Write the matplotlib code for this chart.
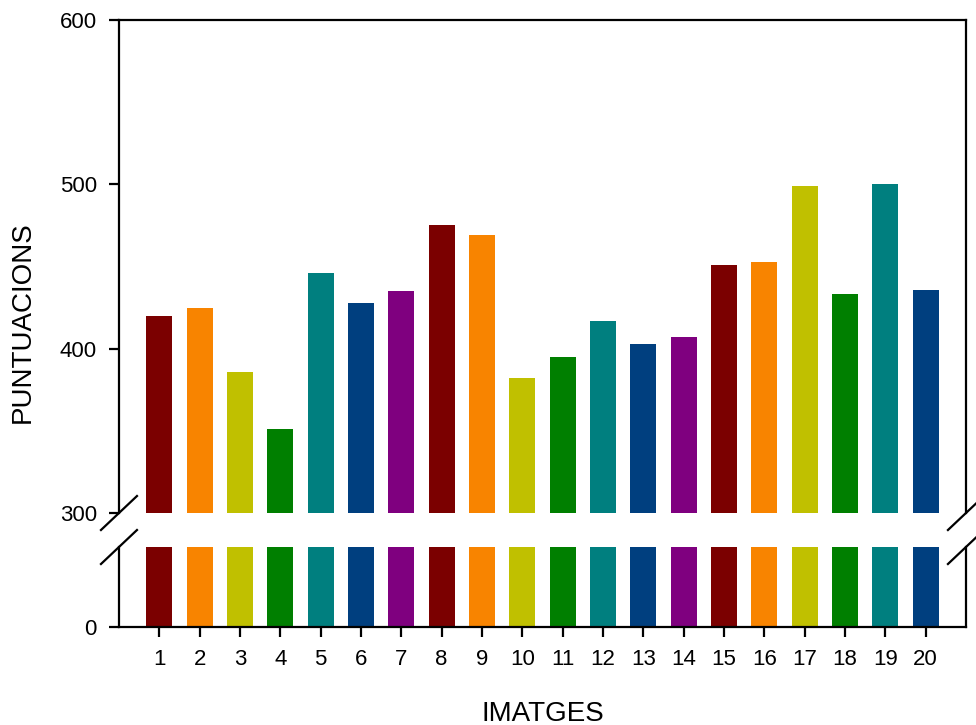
import matplotlib.pyplot as plt

plt.rcParams['font.family'] = ['Liberation Sans', 'DejaVu Sans']

# Dades
imatges = list(range(1, 21))
puntuacions = [420, 425, 386, 351, 446, 428, 435, 475, 469, 382,
               395, 417, 403, 407, 451, 453, 499, 433, 500, 436]
colors_cicle = ['#7B0000', '#F88400', '#C0C000', '#007F00',
                '#007F7F', '#003F7F', '#7F007F']
y_ticks_superior = [300, 400, 500, 600]
y_ticks_inferior = [0]

colors = [colors_cicle[i % len(colors_cicle)] for i in range(len(imatges))]

fig = plt.figure(figsize=(9.76, 7.25), dpi=100)
ax_sup = fig.add_axes([0.1219, 0.2924, 0.8678, 0.68])
ax_inf = fig.add_axes([0.1219, 0.1352, 0.8678, 0.1103])

for ax in (ax_sup, ax_inf):
    ax.bar(imatges, puntuacions, width=0.65, color=colors)
    ax.set_xlim(0, 21)
    for s in ('left', 'right', 'top', 'bottom'):
        ax.spines[s].set_linewidth(1.6)
    ax.tick_params(width=1.6, length=7, labelsize=16, pad=9)

ax_sup.set_ylim(300, 600)
ax_sup.set_yticks(y_ticks_superior)
ax_sup.spines['bottom'].set_visible(False)
ax_sup.tick_params(axis='x', bottom=False, labelbottom=False)

ax_inf.set_ylim(0, 50)
ax_inf.set_yticks(y_ticks_inferior)
ax_inf.spines['top'].set_visible(False)
ax_inf.set_xticks(imatges)

ax_inf.set_xlabel('IMATGES', fontsize=20, labelpad=22)
fig.text(0.023, 0.555, 'PUNTUACIONS', rotation=90, fontsize=20,
         ha='center', va='center')

# Marques de tall de l'eix
dx, dy = 18 / 976, 17 / 725
for ax, yb in ((ax_sup, 0.2924), (ax_inf, 0.2455)):
    for xb in (0.1219, 0.9897):
        ax.plot([xb - dx, xb + dx], [yb - dy, yb + dy], color='black',
                lw=1.6, transform=fig.transFigure, clip_on=False)

plt.savefig('out.png', dpi=100)
